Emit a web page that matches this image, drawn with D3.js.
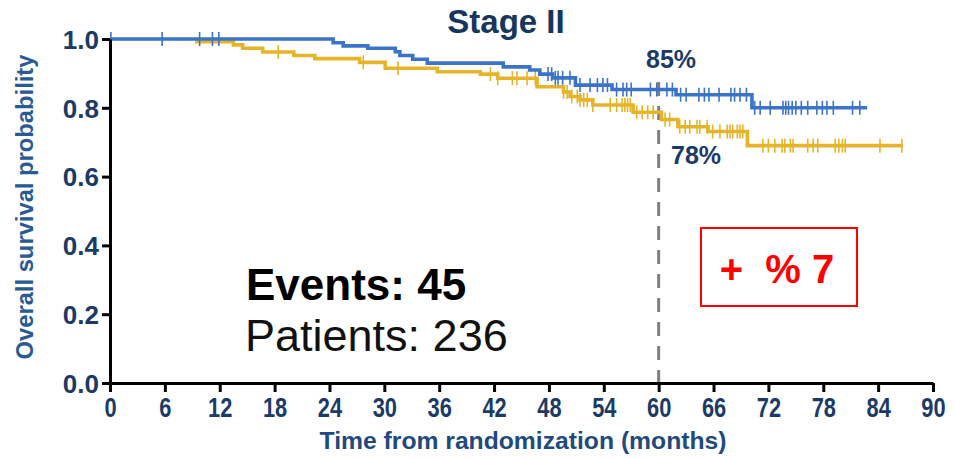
<!DOCTYPE html>
<html><head><meta charset="utf-8">
<script src="https://cdn.jsdelivr.net/npm/d3@7"></script>
<style>
html,body{margin:0;padding:0;background:#fff;}
svg{display:block;}
</style></head>
<body>
<svg id="c" width="954" height="458"></svg>
<script>
// ---- data ----
const xTicks = [0,6,12,18,24,30,36,42,48,54,60,66,72,78,84,90];
const yTicks = [0,0.2,0.4,0.6,0.8,1.0];

// blue arm: step times (months) and survival after each step; last point = end of follow-up
const blueTimes = [0, 24.4, 25.5, 28.2, 31.2, 31.7, 33.1, 34.7, 43.0, 45.9, 47.0, 48.4, 50.9, 54.9, 61.9, 70.2, 82.8];
const blueSurv  = [1.0, 0.989, 0.980, 0.973, 0.963, 0.952, 0.941, 0.930, 0.919, 0.910, 0.898, 0.887, 0.866, 0.853, 0.838, 0.800, 0.800];
const blueCens  = [0.1, 5.7, 9.8, 11.2, 11.9, 47.9, 48.3, 48.7, 49.0, 49.5, 50.3, 51.4, 52.5, 53.3, 53.9, 54.4, 55.4, 56.1, 56.5, 57.0, 59.1, 59.8, 60.9, 61.5, 62.4, 63.0, 64.4, 65.0, 65.5, 66.6, 67.9, 68.3, 68.9, 69.6, 70.5, 71.1, 72.2, 73.6, 73.9, 74.2, 74.6, 75.0, 75.6, 76.3, 77.3, 77.9, 78.4, 79.1, 81.2, 82.0];

// yellow arm
const yellowTimes = [9.3, 13.5, 14.5, 16.7, 20.1, 22.4, 27.3, 30.1, 35.8, 40.5, 42.4, 46.7, 49.6, 50.3, 51.4, 52.8, 57.2, 60.3, 62.1, 65.4, 69.7, 86.7];
const yellowSurv  = [0.992, 0.983, 0.973, 0.962, 0.952, 0.943, 0.932, 0.915, 0.905, 0.898, 0.886, 0.861, 0.846, 0.833, 0.823, 0.808, 0.787, 0.766, 0.745, 0.731, 0.690, 0.690];
const yellowCens  = [18.4, 27.7, 31.5, 41.6, 42.4, 44.0, 44.5, 45.6, 46.5, 49.6, 50.0, 50.5, 51.1, 51.4, 51.8, 52.2, 52.8, 54.7, 55.4, 56.0, 56.3, 56.6, 56.9, 57.6, 58.2, 58.8, 59.4, 60.7, 61.2, 62.3, 62.9, 63.4, 64.2, 64.5, 65.3, 65.9, 66.7, 67.5, 67.8, 68.1, 68.6, 68.9, 69.2, 71.4, 72.0, 72.7, 73.5, 73.8, 74.4, 74.7, 76.3, 76.9, 77.4, 79.3, 79.7, 80.1, 80.4, 84.2, 86.6];

const landmarkMonth = 60;
const blueLabel = "85%", yellowLabel = "78%";
const events = 45, patients = 236;
const diffLabel = "+  % 7";

// ---- drawing ----
const svg = d3.select("#c");
const x = d3.scaleLinear().domain([0,90]).range([110,933]);
const y = d3.scaleLinear().domain([0,1]).range([383,39]);

const navy = "#1b3a66";
const blue = "#3b74c6";
const gold = "#e6b42a";
const arial = "'Liberation Sans',Arial,sans-serif";

// title
svg.append("text").attr("x",506).attr("y",33).attr("text-anchor","middle")
  .attr("font-family",arial).attr("font-weight","bold").attr("font-size",33)
  .attr("fill","#17365d").text("Stage II");

// dashed landmark line
svg.append("line").attr("x1",x(landmarkMonth)).attr("x2",x(landmarkMonth))
  .attr("y1",y(0.875)).attr("y2",y(0))
  .attr("stroke","#7f7f7f").attr("stroke-width",3).attr("stroke-dasharray","14,10");

function arm(times, surv, cens, color){
  const pts = times.map((t,i)=>[t,surv[i]]);
  const line = d3.line().x(d=>x(d[0])).y(d=>y(d[1])).curve(d3.curveStepAfter);
  svg.append("path").attr("d",line(pts)).attr("fill","none")
    .attr("stroke",color).attr("stroke-width",3.6);
  const bis = d3.bisector(d=>d).right;
  const g = svg.append("g");
  cens.forEach(c=>{
    const i = Math.max(0, bis(times,c)-1);
    const yy = y(surv[i]);
    g.append("line").attr("x1",x(c)).attr("x2",x(c)).attr("y1",yy-7).attr("y2",yy+7)
      .attr("stroke",color).attr("stroke-width",1.6);
  });
}
arm(yellowTimes, yellowSurv, yellowCens, gold);
arm(blueTimes, blueSurv, blueCens, blue);

// axes
const xAxis = d3.axisBottom(x).tickValues(xTicks).tickSize(9).tickSizeOuter(0).tickPadding(5);
const gx = svg.append("g").attr("transform","translate(0,383)").call(xAxis);
gx.select(".domain").attr("stroke","#000").attr("stroke-width",3);
gx.selectAll(".tick line").attr("stroke","#000").attr("stroke-width",3);
gx.selectAll(".tick text").attr("font-family",arial).attr("font-weight","bold")
  .attr("font-size",28).attr("fill",navy).attr("transform","scale(0.78,1)");

const yAxis = d3.axisLeft(y).tickValues(yTicks).tickFormat(d3.format(".1f")).tickSize(8).tickSizeOuter(0).tickPadding(3);
const gy = svg.append("g").attr("transform","translate(110,0)").call(yAxis);
gy.select(".domain").attr("stroke","#000").attr("stroke-width",3);
gy.selectAll(".tick line").attr("stroke","#000").attr("stroke-width",3);
gy.selectAll(".tick text").attr("font-family",arial).attr("font-weight","bold")
  .attr("font-size",26).attr("fill",navy).attr("dy","0.36em");

// axis titles
svg.append("text").attr("x",523).attr("y",449).attr("text-anchor","middle")
  .attr("font-family",arial).attr("font-weight","bold").attr("font-size",24)
  .attr("textLength",407).attr("lengthAdjust","spacingAndGlyphs")
  .attr("fill","#1f4a7c").text("Time from randomization (months)");
svg.append("text").attr("transform","translate(33,207) rotate(-90)").attr("text-anchor","middle")
  .attr("font-family",arial).attr("font-weight","bold").attr("font-size",23)
  .attr("textLength",305).attr("lengthAdjust","spacingAndGlyphs")
  .attr("fill","#2a5a92").text("Overall survival probability");

// landmark labels
svg.append("text").attr("x",646).attr("y",68).attr("font-family",arial).attr("font-weight","bold")
  .attr("font-size",25).attr("fill",navy).text(blueLabel);
svg.append("text").attr("x",671).attr("y",164).attr("font-family",arial).attr("font-weight","bold")
  .attr("font-size",25).attr("fill",navy).text(yellowLabel);

// events / patients
svg.append("text").attr("x",246).attr("y",300).attr("font-family",arial).attr("font-weight","bold")
  .attr("font-size",44).attr("fill","#000").text("Events: " + events);
svg.append("text").attr("x",245).attr("y",351).attr("font-family",arial)
  .attr("font-size",45).attr("fill","#111").text("Patients: " + patients);

// red box
svg.append("rect").attr("x",701).attr("y",228).attr("width",156).attr("height",78)
  .attr("fill","none").attr("stroke","#ff0000").attr("stroke-width",2);
svg.append("text").attr("x",777).attr("y",283).attr("text-anchor","middle")
  .attr("font-family",arial).attr("font-weight","bold").attr("font-size",40)
  .attr("fill","#ff0000").style("white-space","pre").text(diffLabel);
</script>
</body></html>
